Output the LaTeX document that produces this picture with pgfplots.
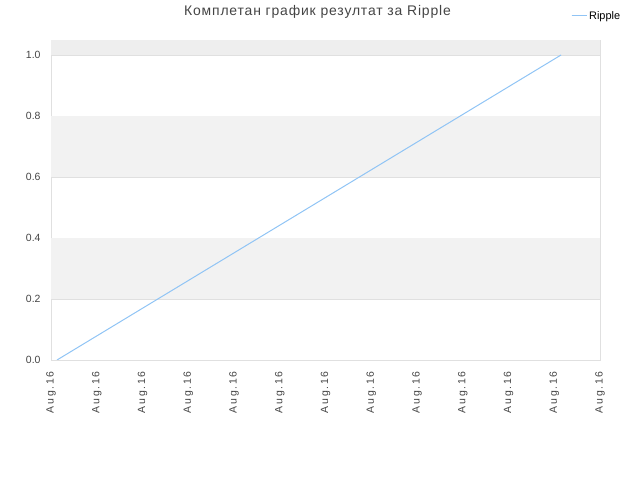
\documentclass[border=0pt]{standalone}
\usepackage{fontspec}
\setmainfont{Liberation Sans}
\newfontfamily\titlefont[LetterSpace=6]{Liberation Sans}
\newfontfamily\tickfont[LetterSpace=16]{Liberation Sans}
\usepackage{pgfplots}
\pgfplotsset{compat=1.18}
\definecolor{linecol}{HTML}{90C4F5}
\definecolor{bandcol}{HTML}{F2F2F2}
\definecolor{topband}{HTML}{EEEEEE}
\definecolor{gridcol}{HTML}{E0E0E0}
\definecolor{txtcol}{HTML}{444444}

\begin{document}
\begin{tikzpicture}[x=1bp,y=1bp]
\useasboundingbox (-51bp,-120bp) rectangle (589bp,360bp);
\begin{axis}[
    scale only axis,
    width=549bp,
    height=320bp,
    xmin=0, xmax=12,
    ymin=0, ymax=1.049,
    axis line style={draw=gridcol},
    tick style={draw=none},
    xtick={0,1,2,3,4,5,6,7,8,9,10,11,12},
    xticklabels={Aug.16,Aug.16,Aug.16,Aug.16,Aug.16,Aug.16,Aug.16,Aug.16,Aug.16,Aug.16,Aug.16,Aug.16,Aug.16},
    x tick label style={rotate=90, anchor=east, font=\tickfont\fontsize{10.5}{12}\selectfont, text=txtcol, yshift=0bp, xshift=-8bp},
    ytick={0,0.2,0.4,0.6,0.8,1.0},
    yticklabel style={/pgf/number format/fixed, /pgf/number format/fixed zerofill, /pgf/number format/precision=1, font=\fontsize{10.5}{12}\selectfont, text=txtcol, xshift=-7bp},
    /pgf/number format/assume math mode=true,
    ymajorgrids,
    major grid style={draw=gridcol},
    every axis title shift=0pt,
    title={\titlefont\fontsize{14}{16}\selectfont Комплетан график резултат за Ripple},
    title style={text=txtcol, at={(0.5,1)}, anchor=center, yshift=28bp, xshift=-51bp+43bp},
    legend style={at={(0.947,1.075)}, anchor=west, draw=none, fill=none, font=\fontsize{11}{12}\selectfont, text=black, inner sep=0pt},
    legend image code/.code={\draw[#1] (0bp,0bp) -- (9bp,0bp); \path (0bp,0bp) -- (15bp,0bp);},
    legend cell align=left,
    axis on top=false,
]
\fill[bandcol] (axis cs:0,0.2) rectangle (axis cs:12,0.4);
\fill[bandcol] (axis cs:0,0.6) rectangle (axis cs:12,0.8);
\fill[topband] (axis cs:0,1.0) rectangle (axis cs:12,1.049);
\addplot[color=linecol, line width=1bp] coordinates {(0.131,0) (11.15,1)};
\addlegendentry{Ripple}
\end{axis}
\end{tikzpicture}
\end{document}
